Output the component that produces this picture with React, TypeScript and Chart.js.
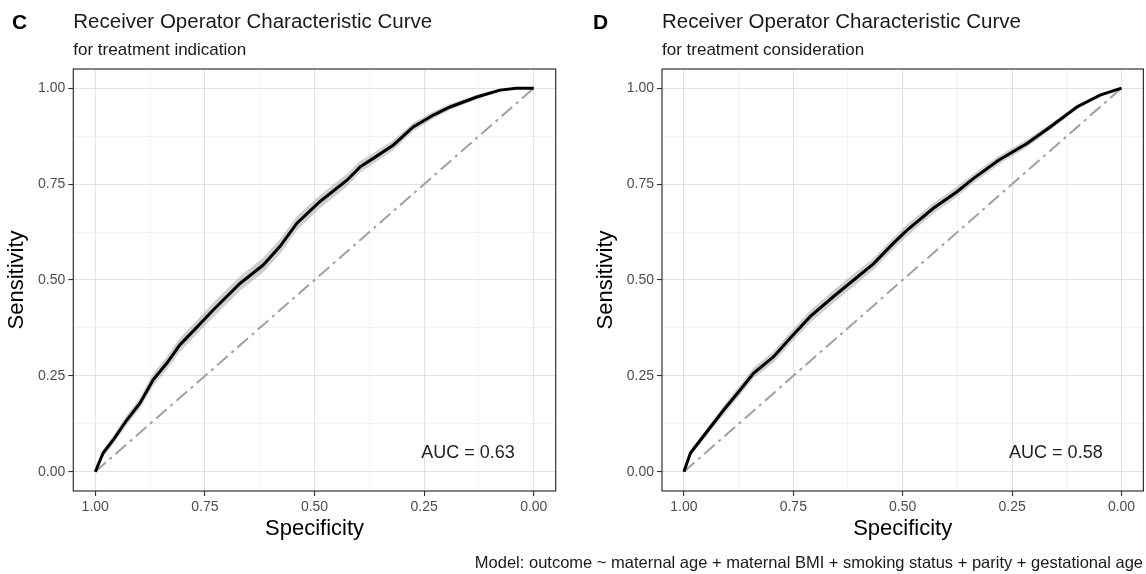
import React, { useEffect, useRef } from "react";
import { Chart, registerables } from "chart.js";

Chart.register(...registerables);

// ---------- data ----------
const majorTicks = [0, 0.25, 0.5, 0.75, 1];
const minorTicks = [0.125, 0.375, 0.625, 0.875];

// Panel C: treatment indication
const specC = [1.0, 0.982, 0.959, 0.928, 0.898, 0.868, 0.837, 0.807, 0.774, 0.731, 0.67, 0.617, 0.579, 0.54, 0.488, 0.426, 0.396, 0.366, 0.32, 0.275, 0.229, 0.191, 0.13, 0.077, 0.04, 0.0];
const sensC = [0, 0.049, 0.083, 0.135, 0.179, 0.24, 0.283, 0.331, 0.37, 0.422, 0.491, 0.539, 0.587, 0.648, 0.704, 0.76, 0.795, 0.817, 0.852, 0.899, 0.93, 0.951, 0.977, 0.995, 1.0, 1.0];
const sensLoC = [0, 0.04, 0.072, 0.122, 0.165, 0.224, 0.266, 0.313, 0.352, 0.403, 0.472, 0.52, 0.568, 0.63, 0.687, 0.744, 0.78, 0.803, 0.839, 0.888, 0.921, 0.943, 0.971, 0.992, 1.0, 1.0];
const sensHiC = [0, 0.058, 0.094, 0.148, 0.193, 0.256, 0.3, 0.349, 0.388, 0.441, 0.51, 0.558, 0.606, 0.666, 0.721, 0.776, 0.81, 0.831, 0.865, 0.91, 0.939, 0.959, 0.983, 0.998, 1.0, 1.0];

// Panel D: treatment consideration
const specD = [1.0, 0.985, 0.947, 0.909, 0.871, 0.841, 0.795, 0.76, 0.711, 0.658, 0.612, 0.567, 0.521, 0.49, 0.43, 0.376, 0.338, 0.281, 0.216, 0.163, 0.102, 0.049, 0.0];
const sensD = [0, 0.049, 0.105, 0.161, 0.214, 0.257, 0.3, 0.345, 0.405, 0.457, 0.5, 0.542, 0.596, 0.63, 0.687, 0.73, 0.765, 0.812, 0.856, 0.899, 0.951, 0.982, 1.0];
const sensLoD = [0, 0.041, 0.095, 0.149, 0.201, 0.243, 0.285, 0.33, 0.389, 0.441, 0.484, 0.527, 0.581, 0.615, 0.673, 0.717, 0.753, 0.801, 0.846, 0.891, 0.945, 0.979, 1.0];
const sensHiD = [0, 0.057, 0.115, 0.173, 0.227, 0.271, 0.315, 0.36, 0.421, 0.473, 0.516, 0.557, 0.611, 0.645, 0.701, 0.743, 0.777, 0.823, 0.866, 0.907, 0.957, 0.985, 1.0];

// chance line
const diagSpec = [1, 0];
const diagSens = [0, 1];

// AUC annotations and their data position
const aucLabels = ["AUC = 0.63", "AUC = 0.58"];
const aucAt = { spec: 0.15, sens: 0.05 };

const panelLetters = ["C", "D"];
const panelTitle = "Receiver Operator Characteristic Curve";
const panelSubtitles = ["for treatment indication", "for treatment consideration"];
const captionText =
  "Model: outcome ~ maternal age + maternal BMI + smoking status + parity + gestational age";

// ---------- styling ----------
const FONT = '"Liberation Sans", Arial, Helvetica, sans-serif';
const allTicks = [...majorTicks, ...minorTicks].sort((a, b) => a - b);
const isMajor = (v: number) => majorTicks.some((m) => Math.abs(m - v) < 1e-9);

type PanelProps = {
  left: number;
  width: number;
  yAxisWidth: number;
  padRight: number;
  yTitlePad: number;
  spec: number[];
  sens: number[];
  lo: number[];
  hi: number[];
  auc: string;
};

const H = 574;
const PLOT_TOP = 69;
const PLOT_BOTTOM = 491;

function Panel(p: PanelProps) {
  const ref = useRef<HTMLCanvasElement | null>(null);
  useEffect(() => {
    if (!ref.current) return;
    const xy = (xs: number[], ys: number[]) => xs.map((x, i) => ({ x, y: ys[i] }));
    const gridCfg = {
      color: (c: any) => (isMajor(c.tick?.value) ? "#e2e2e2" : "#eeeeee"),
      lineWidth: (c: any) => (isMajor(c.tick?.value) ? 1.1 : 0.8),
      tickColor: (c: any) => (isMajor(c.tick?.value) ? "#333333" : "rgba(0,0,0,0)"),
      tickLength: 5,
      tickWidth: 1.1,
      drawTicks: true,
    };
    const tickCfg = {
      callback: (v: any) => (isMajor(Number(v)) ? Number(v).toFixed(2) : ""),
      color: "#4d4d4d",
      font: { family: FONT, size: 14 },
      autoSkip: false,
      maxRotation: 0,
      minRotation: 0,
      padding: 3,
    };
    const decor = {
      id: "panelDecor",
      afterDatasetsDraw(chart: any) {
        const { ctx, chartArea: a, scales } = chart;
        ctx.save();
        ctx.strokeStyle = "#333333";
        ctx.lineWidth = 1.2;
        ctx.strokeRect(a.left, a.top, a.right - a.left, a.bottom - a.top);
        ctx.font = `18px ${FONT}`;
        ctx.fillStyle = "#222222";
        ctx.textAlign = "center";
        ctx.textBaseline = "middle";
        ctx.fillText(
          p.auc,
          scales.x.getPixelForValue(aucAt.spec),
          scales.y.getPixelForValue(aucAt.sens)
        );
        ctx.restore();
      },
    };
    const chart = new Chart(ref.current, {
      type: "line",
      data: {
        datasets: [
          {
            data: xy(p.spec, p.sens),
            borderColor: "#000000",
            borderWidth: 3,
            pointRadius: 0,
            fill: false,
            tension: 0,
          },
          {
            data: xy(diagSpec, diagSens),
            borderColor: "#a0a0a0",
            borderWidth: 2,
            borderDash: [14, 5, 3, 5],
            pointRadius: 0,
            fill: false,
          },
          {
            data: xy(p.spec, p.lo),
            borderWidth: 0,
            borderColor: "rgba(0,0,0,0)",
            pointRadius: 0,
            fill: false,
          },
          {
            data: xy(p.spec, p.hi),
            borderWidth: 0,
            borderColor: "rgba(0,0,0,0)",
            backgroundColor: "rgba(160,160,160,0.5)",
            pointRadius: 0,
            fill: 2,
          },
        ] as any,
      },
      options: {
        animation: false,
        responsive: false,
        maintainAspectRatio: false,
        devicePixelRatio: 1,
        events: [],
        layout: { padding: { left: 0, right: p.padRight, top: PLOT_TOP, bottom: 0 } },
        plugins: {
          legend: { display: false },
          tooltip: { enabled: false },
          title: { display: false },
        },
        scales: {
          x: {
            type: "linear",
            reverse: true,
            min: -0.05,
            max: 1.05,
            afterBuildTicks: (s: any) => {
              s.ticks = allTicks.map((v) => ({ value: v }));
            },
            afterFit: (s: any) => {
              s.height = H - PLOT_BOTTOM;
            },
            ticks: { ...tickCfg, padding: 3 },
            grid: gridCfg,
            border: { display: false },
            title: {
              display: true,
              text: "Specificity",
              color: "#000000",
              font: { family: FONT, size: 22 },
              padding: { top: 0, bottom: 31.5 },
            },
          },
          y: {
            type: "linear",
            min: -0.05,
            max: 1.05,
            afterBuildTicks: (s: any) => {
              s.ticks = allTicks.map((v) => ({ value: v }));
            },
            afterFit: (s: any) => {
              s.width = p.yAxisWidth;
            },
            ticks: tickCfg,
            grid: gridCfg,
            border: { display: false },
            title: {
              display: true,
              text: "Sensitivity",
              color: "#000000",
              font: { family: FONT, size: 22 },
              padding: { top: p.yTitlePad, bottom: 0 },
            },
          },
        },
      } as any,
      plugins: [decor],
    });
    return () => chart.destroy();
  }, []);
  return (
    <canvas
      ref={ref}
      width={p.width}
      height={H}
      style={{ position: "absolute", left: p.left, top: 0, width: p.width, height: H }}
    />
  );
}

const textBase: React.CSSProperties = {
  position: "absolute",
  fontFamily: FONT,
  lineHeight: 1,
  whiteSpace: "nowrap",
  color: "#000",
};

export default function App() {
  const plotLefts = [73.3, 662];
  const letterLefts = [12, 593];
  return (
    <div
      style={{
        position: "absolute",
        left: 0,
        top: 0,
        width: 1146,
        height: H,
        background: "#ffffff",
        overflow: "hidden",
      }}
    >
      <Panel
        left={0}
        width={580}
        yAxisWidth={73.3}
        padRight={24.3}
        yTitlePad={4}
        spec={specC}
        sens={sensC}
        lo={sensLoC}
        hi={sensHiC}
        auc={aucLabels[0]}
      />
      <Panel
        left={580}
        width={566}
        yAxisWidth={82}
        padRight={2.6}
        yTitlePad={12.8}
        spec={specD}
        sens={sensD}
        lo={sensLoD}
        hi={sensHiD}
        auc={aucLabels[1]}
      />
      {[0, 1].map((i) => (
        <React.Fragment key={i}>
          <div style={{ ...textBase, left: letterLefts[i], top: 10.5, fontSize: 21, fontWeight: 700 }}>
            {panelLetters[i]}
          </div>
          <div style={{ ...textBase, left: plotLefts[i], top: 11, fontSize: 20.5, color: "#1a1a1a" }}>
            {panelTitle}
          </div>
          <div style={{ ...textBase, left: plotLefts[i], top: 40.6, fontSize: 17, color: "#1a1a1a" }}>
            {panelSubtitles[i]}
          </div>
        </React.Fragment>
      ))}
      <div style={{ ...textBase, right: 1146 - 1143, top: 554, fontSize: 16.5, color: "#1a1a1a" }}>
        {captionText}
      </div>
    </div>
  );
}
